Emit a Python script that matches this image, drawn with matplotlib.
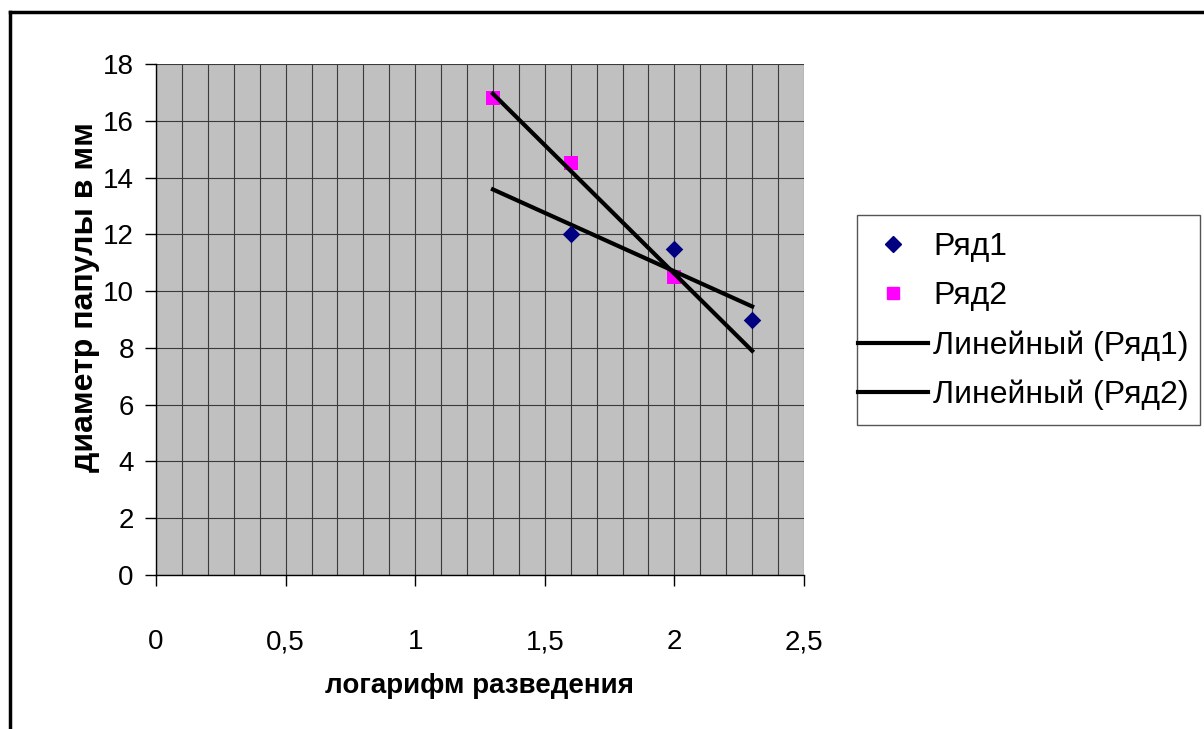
import numpy as np
import matplotlib
matplotlib.use("Agg")
import matplotlib.pyplot as plt
from matplotlib.lines import Line2D
from matplotlib.patches import Rectangle
from matplotlib.ticker import MultipleLocator, FuncFormatter

# data
x1 = [1.6, 2.0, 2.3]
y1 = [12.0, 11.5, 9.0]
x2 = [1.3, 1.6, 2.0]
y2 = [16.8, 14.5, 10.5]
trend_span = [1.3, 2.3]

x_label = "логарифм разведения"
y_label = "диаметр папулы в мм"
names = ["Ряд1", "Ряд2", "Линейный (Ряд1)", "Линейный (Ряд2)"]

FONT = ["Liberation Sans", "DejaVu Sans"]
W, H = 1204, 729

fig = plt.figure(figsize=(W / 100, H / 100), dpi=100)
ax = fig.add_axes([156 / W, 1 - 575 / H, 648 / W, 511 / H])
ax.set_facecolor("#c0c0c0")

ax.set_xlim(0, 2.5)
ax.set_ylim(0, 18)
ax.xaxis.set_major_locator(MultipleLocator(0.5))
ax.xaxis.set_minor_locator(MultipleLocator(0.1))
ax.yaxis.set_major_locator(MultipleLocator(2))
ax.xaxis.set_major_formatter(FuncFormatter(lambda v, p: f"{v:g}".replace(".", ",")))
ax.grid(which="both", axis="x", color="#3a3a3a", lw=0.8)
ax.grid(which="major", axis="y", color="#3a3a3a", lw=0.8)
ax.tick_params(which="minor", length=0)
ax.tick_params(which="major", length=8, width=1, direction="out", labelsize=20)
ax.tick_params(axis="x", pad=31)
ax.tick_params(axis="y", pad=8)
for lab in ax.get_xticklabels() + ax.get_yticklabels():
    lab.set_family(FONT)
for s in ("top", "right"):
    ax.spines[s].set_visible(False)
for s in ("left", "bottom"):
    ax.spines[s].set_color("black")
    ax.spines[s].set_linewidth(1)

# trend lines (least squares, drawn over the common x span)
xs = np.array(trend_span)
k1, b1 = np.polyfit(x1, y1, 1)
k2, b2 = np.polyfit(x2, y2, 1)
ax.plot(xs, k1 * xs + b1, color="black", lw=3, zorder=3)
ax.plot(xs, k2 * xs + b2, color="black", lw=3, zorder=3)

ax.scatter(x1, y1, marker="D", s=80, color="#000080", zorder=4, linewidths=0)
ax.scatter(x2, y2, marker="s", s=110, color="#ff00ff", zorder=2, linewidths=0)

ax.set_xlabel(x_label, family=FONT, fontsize=20, fontweight="bold")
ax.xaxis.set_label_coords(0.5, -(673 - 575) / 511)
ax.set_ylabel(y_label, family=FONT, fontsize=23, fontweight="bold")
ax.yaxis.set_label_coords(-(156 - 100) / 648, (575 - 297) / 511)

# legend: box drawn by hand, entries placed without a frame
fig.add_artist(Rectangle((857 / W, 1 - 425 / H), 343 / W, 210 / H,
                         transform=fig.transFigure, facecolor="white",
                         edgecolor="#555555", lw=1, zorder=5))
handles = [
    Line2D([], [], ls="none", marker="D", ms=8, color="#000080"),
    Line2D([], [], ls="none", marker="s", ms=8, color="#ff00ff"),
    Line2D([], [], color="black", lw=3),
    Line2D([], [], color="black", lw=3),
]
leg = fig.legend(handles, names, loc="upper left",
                 bbox_to_anchor=(858 / W, 1 - 232 / H),
                 prop={"family": FONT, "size": 23}, frameon=False,
                 handlelength=2.2, handletextpad=0.15, labelspacing=0.6,
                 borderpad=0, borderaxespad=0)
leg.set_zorder(6)

# outer chart frame (runs off the right and bottom of the picture)
fig.add_artist(Line2D([10 / W, 10 / W], [0, 1 - 12 / H],
                      color="black", lw=2.5, transform=fig.transFigure))
fig.add_artist(Line2D([10 / W, 1], [1 - 12 / H, 1 - 12 / H],
                      color="black", lw=2.5, transform=fig.transFigure))

fig.savefig("out.png", dpi=100, facecolor="white")
